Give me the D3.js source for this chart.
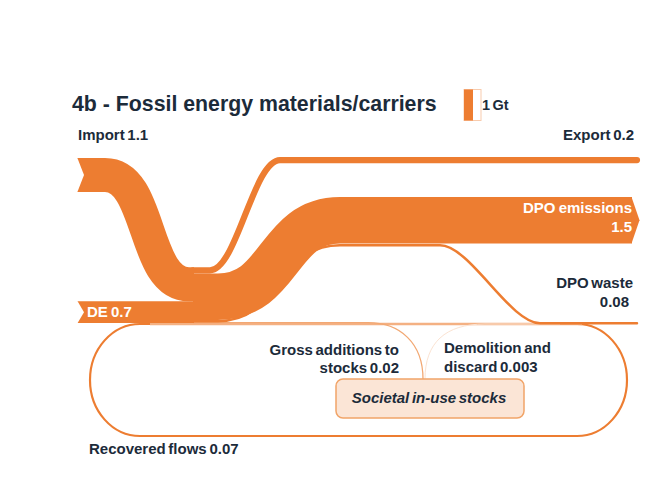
<!DOCTYPE html>
<html>
<head>
<meta charset="utf-8">
<script src="https://cdn.jsdelivr.net/npm/d3@7"></script>
<style>
  html, body { margin: 0; padding: 0; background: #ffffff; }
  svg { display: block; }
  text { font-family: "Liberation Sans", Arial, sans-serif; font-weight: bold; }
</style>
</head>
<body>
<svg id="chart" width="647" height="500"></svg>
<script>
// ---------------- data ----------------
const title = "4b - Fossil energy materials/carriers";
const flowKeys   = ["import", "de", "export", "emissions", "waste", "additions", "demolition", "recovered"];
const flowLabels = ["Import", "DE", "Export", "DPO emissions", "DPO waste", "Gross additions to stocks", "Demolition and discard", "Recovered flows"];
const flowValues = [1.1, 0.7, 0.2, 1.5, 0.08, 0.02, 0.003, 0.07];
const legendValue = [1];
const legendUnit = ["Gt"];
const stockLabel = ["Societal in-use stocks"];

// ---------------- setup ----------------
const ORANGE = "#ED7D31";
const NAVY = "#1c2b3a";
const svg = d3.select("#chart");
const val = Object.fromEntries(flowKeys.map((k, i) => [k, flowValues[i]]));
const fmt = v => String(v);

// band width scale: Gt -> px
const w = d3.scaleLinear().domain([0, 1]).range([0, 31]);

// layout anchors
const xTail = 77, notch = 7, xMerge = 193, xEnd = 632;
const yBase = 323;                  // bottom of the merged stack
const yImportLeft = 158;            // top of import at the tail
const yExportRight = 157;           // top of export on the right
const yEmissionsRight = 197;        // top of emissions on the right

function flowPath(x0, y0, segs, x1) {
  const p = d3.path();
  p.moveTo(x0, y0);
  let y = y0;
  segs.forEach(s => {
    const dx = s.xb - s.xa;
    p.lineTo(s.xa, y);
    p.bezierCurveTo(s.xa + s.a * dx, y, s.xb - s.a * dx, s.y, s.xb, s.y);
    y = s.y;
  });
  p.lineTo(x1, y);
  return p.toString();
}

// stack at merge (outputs, top to bottom)
const outOrder = ["export", "emissions", "waste", "additions"];
const totalIn = val.import + val.de;
let yy = yBase - w(totalIn);
const outStack = {};
outOrder.forEach(k => { outStack[k] = yy + w(val[k]) / 2; yy += w(val[k]); });
const deCenter = yBase - w(val.de) / 2;
const importCenterMerge = yBase - w(val.de) - w(val.import) / 2;
const importCenterLeft = yImportLeft + w(val.import) / 2;
const exportCenterRight = yExportRight + w(val.export) / 2;
const emCenterRight = yEmissionsRight + w(val.emissions) / 2;
const wasteCenterTop = yEmissionsRight + w(val.emissions) + w(val.waste) / 2 + 0.6;

// ---------------- recovered-flow loop ----------------
const loop = {x0: 90, x1: 627, y0: 324, y1: 436};
svg.append("rect")
  .attr("x", loop.x0).attr("y", loop.y0)
  .attr("width", loop.x1 - loop.x0).attr("height", loop.y1 - loop.y0)
  .attr("rx", 50).attr("ry", 56)
  .attr("fill", "none").attr("stroke", ORANGE)
  .attr("stroke-width", w(val.recovered));
svg.append("line")
  .attr("x1", 150).attr("x2", 582).attr("y1", loop.y0).attr("y2", loop.y0)
  .attr("stroke", "#F4B183").attr("stroke-width", 2.4);

// gross additions & demolition
const box = {x0: 336, x1: 524, y0: 379, y1: 418};
const xJoin = 423;
svg.append("path")
  .attr("d", `M${xMerge},${yBase - 0.3} H368 C400,${yBase - 0.3} ${xJoin},${yBase + 20} ${xJoin},${box.y0}`)
  .attr("fill", "none").attr("stroke", "#F2A873")
  .attr("stroke-width", Math.max(w(val.additions), 1.3));
svg.append("path")
  .attr("d", `M${xJoin + 2},${box.y0} C${xJoin + 2},${yBase + 20} 445,${yBase + 1} 485,${yBase + 1} H560`)
  .attr("fill", "none").attr("stroke", "#FBE3D2")
  .attr("stroke-width", Math.max(w(val.demolition), 1));

// stocks box
svg.append("rect")
  .attr("x", box.x0).attr("y", box.y0)
  .attr("width", box.x1 - box.x0).attr("height", box.y1 - box.y0)
  .attr("rx", 7).attr("fill", "#FBE5D6").attr("stroke", "#F1A468").attr("stroke-width", 1.5);
svg.append("text")
  .attr("x", (box.x0 + box.x1) / 2 - 1).attr("y", 403)
  .attr("text-anchor", "middle").attr("font-size", 15).attr("font-style", "italic")
  .attr("word-spacing", "-1.5px")
  .attr("fill", NAVY).text(stockLabel[0]);

// ---------------- main flows ----------------
// export
svg.append("path")
  .attr("d", flowPath(xMerge, outStack.export, [{xa: 210, xb: 280, y: exportCenterRight, a: 0.38}], 637))
  .attr("fill", "none").attr("stroke", ORANGE).attr("stroke-width", w(val.export))
  .attr("stroke-linecap", "round");
// DPO waste
svg.append("path")
  .attr("d", flowPath(xMerge, outStack.waste, [
      {xa: 218, xb: 340, y: wasteCenterTop, a: 0.52},
      {xa: 440, xb: 540, y: yBase + 0.3, a: 0.3}], 637))
  .attr("fill", "none").attr("stroke", ORANGE).attr("stroke-width", w(val.waste))
  .attr("stroke-linecap", "round");
// DPO emissions
svg.append("path")
  .attr("d", flowPath(xMerge, outStack.emissions, [{xa: 218, xb: 340, y: emCenterRight, a: 0.52}], xEnd))
  .attr("fill", "none").attr("stroke", ORANGE).attr("stroke-width", w(val.emissions));
svg.append("path")
  .attr("d", `M${xEnd - 0.5},${yEmissionsRight} L${xEnd + 7.5},${emCenterRight} L${xEnd - 0.5},${yEmissionsRight + w(val.emissions)} Z`)
  .attr("fill", ORANGE);
// import
svg.append("path")
  .attr("d", flowPath(xTail, importCenterLeft, [{xa: 105, xb: 189, y: importCenterMerge, a: 0.56}], xMerge + 1))
  .attr("fill", "none").attr("stroke", ORANGE).attr("stroke-width", w(val.import));
// DE
svg.append("path")
  .attr("d", `M${xTail},${deCenter} H${xMerge + 1}`)
  .attr("fill", "none").attr("stroke", ORANGE).attr("stroke-width", w(val.de));

// tail notches
function notchAt(yc, h) {
  svg.append("path")
    .attr("d", `M${xTail - 6},${yc - h / 2 - 1} L${xTail},${yc - h / 2 - 1} L${xTail + notch},${yc} L${xTail},${yc + h / 2 + 1} L${xTail - 6},${yc + h / 2 + 1} Z`)
    .attr("fill", "#ffffff");
}
notchAt(importCenterLeft, w(val.import));
notchAt(deCenter, w(val.de));

// ---------------- labels ----------------
svg.append("text").attr("x", 72).attr("y", 111).attr("font-size", 21.3)
  .attr("fill", NAVY).text(title);

// legend
const lg = {x: 464, yc: 105};
svg.append("rect").attr("x", lg.x).attr("y", lg.yc - w(legendValue[0]) / 2)
  .attr("width", 17).attr("height", w(legendValue[0]))
  .attr("fill", "#ffffff").attr("stroke", "#F8CBAD").attr("stroke-width", 1);
svg.append("rect").attr("x", lg.x).attr("y", lg.yc - w(legendValue[0]) / 2)
  .attr("width", 9).attr("height", w(legendValue[0])).attr("fill", ORANGE);
svg.append("text").attr("x", 482).attr("y", 110).attr("font-size", 14.5)
  .attr("word-spacing", "-1.5px")
  .attr("fill", NAVY).text(`${legendValue[0]} ${legendUnit[0]}`);

const navyLabels = [
  {t: `${flowLabels[0]} ${fmt(val.import)}`, x: 78, y: 139.5, anchor: "start"},
  {t: `${flowLabels[2]} ${fmt(val.export)}`, x: 634, y: 139.5, anchor: "end"},
  {t: flowLabels[4], x: 633, y: 288, anchor: "end"},
  {t: fmt(val.waste), x: 629, y: 306.5, anchor: "end"},
  {t: "Gross additions to", x: 399, y: 355, anchor: "end"},
  {t: `stocks ${fmt(val.additions)}`, x: 399, y: 373, anchor: "end"},
  {t: "Demolition and", x: 444, y: 353, anchor: "start"},
  {t: `discard ${fmt(val.demolition)}`, x: 444, y: 371.5, anchor: "start"},
  {t: `${flowLabels[7]} ${fmt(val.recovered)}`, x: 89, y: 454, anchor: "start"}
];
svg.selectAll("text.nl").data(navyLabels).join("text").attr("class", "nl")
  .attr("x", d => d.x).attr("y", d => d.y).attr("text-anchor", d => d.anchor)
  .attr("font-size", 15).attr("word-spacing", "-1.5px")
  .attr("fill", NAVY).text(d => d.t);

const whiteLabels = [
  {t: `${flowLabels[1]} ${fmt(val.de)}`, x: 87, y: 316.5, anchor: "start"},
  {t: flowLabels[3], x: 632, y: 213, anchor: "end"},
  {t: fmt(val.emissions), x: 632, y: 231.5, anchor: "end"}
];
svg.selectAll("text.wl").data(whiteLabels).join("text").attr("class", "wl")
  .attr("x", d => d.x).attr("y", d => d.y).attr("text-anchor", d => d.anchor)
  .attr("font-size", 15).attr("word-spacing", "-1px")
  .attr("fill", "#ffffff").text(d => d.t);
</script>
</body>
</html>
